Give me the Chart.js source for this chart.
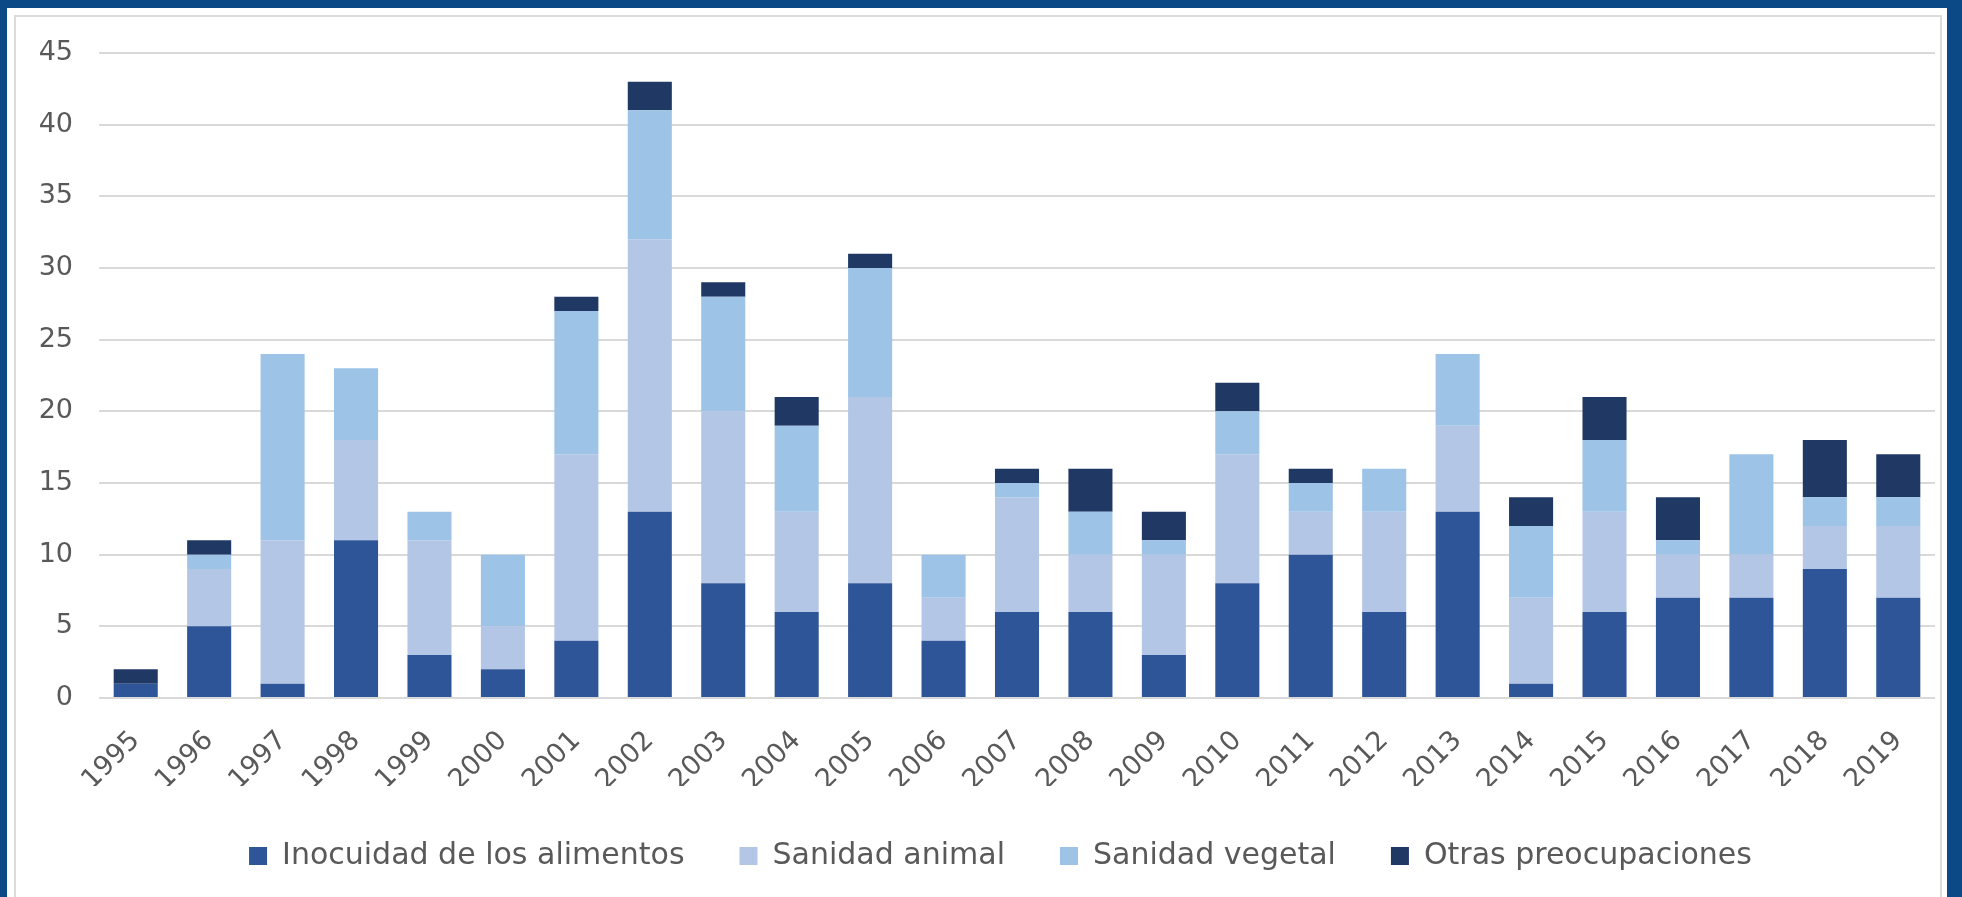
<!DOCTYPE html>
<html>
<head>
<meta charset="utf-8">
<script src="https://cdn.jsdelivr.net/npm/chart.js@4"></script>
<style>
  html, body { margin: 0; padding: 0; }
  body { width: 1962px; height: 897px; background: #0a4886; position: relative; overflow: hidden; }
  .panel { position: absolute; left: 7px; top: 8px; width: 1940px; height: 889px; background: #fff; }
  .panel .line { position: absolute; left: 7px; top: 7px; width: 1924px; height: 880px; border: 2px solid #dcdcdc; }
  #wrap { position: absolute; left: 0; top: 0; width: 1962px; height: 897px; }
</style>
</head>
<body>
<div class="panel"><div class="line"></div></div>
<div id="wrap"><canvas id="myChart"></canvas></div>
<script>
// years on x axis
const years = ['1995','1996','1997','1998','1999','2000','2001','2002','2003','2004','2005','2006','2007',
               '2008','2009','2010','2011','2012','2013','2014','2015','2016','2017','2018','2019'];

const inocuidad = [1, 5, 1, 11, 3, 2, 4, 13, 8, 6, 8, 4, 6, 6, 3, 8, 10, 6, 13, 1, 6, 7, 7, 9, 7];
const animal    = [0, 4, 10, 7, 8, 3, 13, 19, 12, 7, 13, 3, 8, 4, 7, 9, 3, 7, 6, 6, 7, 3, 3, 3, 5];
const vegetal   = [0, 1, 13, 5, 2, 5, 10, 9, 8, 6, 9, 3, 1, 3, 1, 3, 2, 3, 5, 5, 5, 1, 7, 2, 2];
const otras     = [1, 1, 0, 0, 0, 0, 1, 2, 1, 2, 1, 0, 1, 3, 2, 2, 1, 0, 0, 2, 3, 3, 0, 4, 3];

const yTicks = [0, 5, 10, 15, 20, 25, 30, 35, 40, 45];

// nudge the legend a bit to the right, like in the original
const legendShift = {
  id: 'legendShift',
  afterLayout(chart) {
    chart.legend.left += 33;
    chart.legend.right += 33;
  }
};

const ctx = document.getElementById('myChart');

new Chart(ctx, {
  type: 'bar',
  data: {
    labels: years,
    datasets: [
      { label: 'Inocuidad de los alimentos', data: inocuidad, backgroundColor: '#2e5597' },
      { label: 'Sanidad animal', data: animal, backgroundColor: '#b3c6e6' },
      { label: 'Sanidad vegetal', data: vegetal, backgroundColor: '#9dc3e6' },
      { label: 'Otras preocupaciones', data: otras, backgroundColor: '#203864' }
    ]
  },
  plugins: [legendShift],
  options: {
    responsive: true,
    maintainAspectRatio: false,
    animation: false,
    layout: { padding: { left: 0, right: 27, top: 53, bottom: 16 } },
    datasets: { bar: { barPercentage: 0.6, categoryPercentage: 1.0 } },
    plugins: {
      tooltip: { enabled: false },
      legend: {
        position: 'bottom',
        labels: {
          boxWidth: 18,
          boxHeight: 18,
          padding: 55,
          color: '#595959',
          font: { family: 'DejaVu Sans', size: 30 }
        }
      }
    },
    scales: {
      x: {
        stacked: true,
        grid: { display: false },
        border: { display: false },
        ticks: {
          color: '#595959',
          font: { family: 'DejaVu Sans', size: 27 },
          minRotation: 45,
          maxRotation: 45,
          padding: 19
        },
        afterFit: function(scale) { scale.height = 88; }
      },
      y: {
        stacked: true,
        min: 0,
        max: 45,
        afterBuildTicks: function(scale) { scale.ticks = yTicks.map(v => ({ value: v })); },
        grid: { color: '#d9d9d9', lineWidth: 2, drawTicks: false },
        border: { display: false },
        ticks: {
          color: '#595959',
          font: { family: 'DejaVu Sans', size: 27 },
          padding: 26
        },
        afterFit: function(scale) { scale.width = 99; }
      }
    }
  }
});
</script>
</body>
</html>
